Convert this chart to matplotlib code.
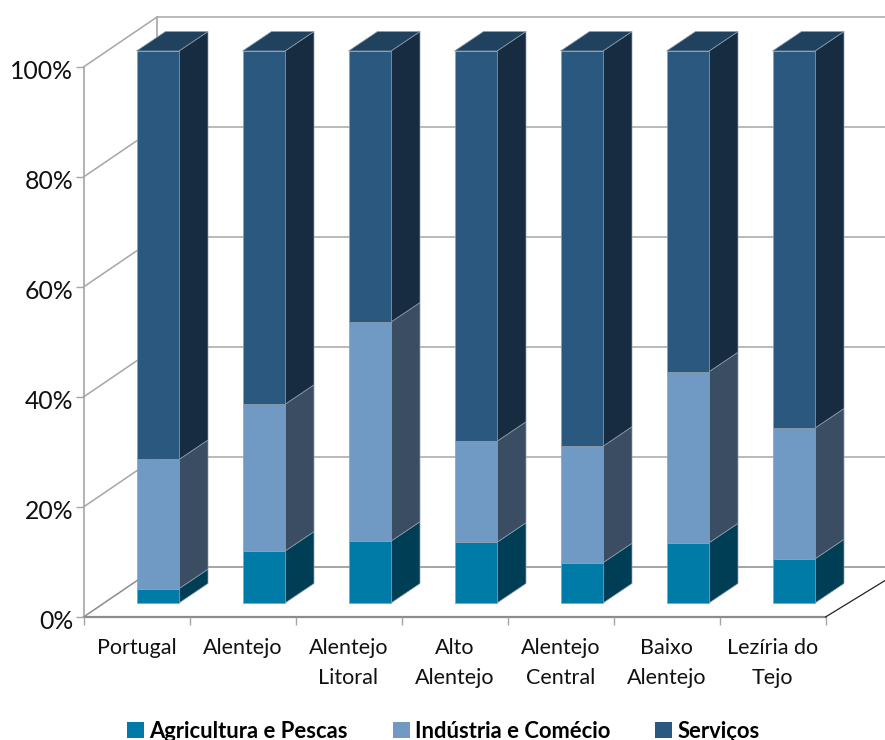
import matplotlib
matplotlib.use("Agg")
import matplotlib.pyplot as plt
from matplotlib.patches import Patch, Polygon
from matplotlib.transforms import ScaledTranslation

plt.rcParams['font.family'] = ['Lato', 'DejaVu Sans']

categories = ["Portugal", "Alentejo", "Alentejo\nLitoral", "Alto\nAlentejo",
              "Alentejo\nCentral", "Baixo\nAlentejo", "Lezíria do\nTejo"]
agricultura = [2.6, 9.4, 11.2, 11.0, 7.3, 10.9, 8.0]
industria = [23.4, 26.6, 39.7, 18.3, 21.1, 31.0, 23.7]
servicos = [74.0, 64.0, 49.1, 70.7, 71.6, 58.1, 68.3]
series_names = ["Agricultura e Pescas", "Indústria e Comécio", "Serviços"]
y_ticks = [0, 20, 40, 60, 80, 100]

W, H = 885, 740
L, R, B, T = 83.5, 825.5, 617.0, 67.0
PX = (R - L) / 7          # pixels per category
PY = (B - T) / 100        # pixels per percent
WALL_DX, WALL_DY = 73.5 / PX, 50 / PY
BAR_DX, BAR_DY = 21.25 / PX, 14 / PY
BAR_W = 42.5 / PX
SIDE_DX, SIDE_DY = 29 / PX, 19.5 / PY
BAR_SCALE = 552 / 550

front_c = ["#007AA6", "#7099C4", "#2A587E"]
side_c = ["#003E55", "#3A4D63", "#172C40"]
top_c = "#20425F"
GRID = "#A6A6A6"

fig = plt.figure(figsize=(W / 100, H / 100), dpi=100)
ax = fig.add_axes([L / W, 1 - B / H, (R - L) / W, (B - T) / H])
ax.set_xlim(0, 7)
ax.set_ylim(0, 100)
ax.patch.set_visible(False)
for s in ax.spines.values():
    s.set_visible(False)

# ticks and labels
ax.set_yticks(y_ticks)
ax.set_yticklabels([f"{v}%" for v in y_ticks], fontsize=17.8, color="#111111")
ax.tick_params(axis="y", length=5.5, width=1, color=GRID, pad=2)
shift = ScaledTranslation(0, -2.5 / 100, fig.dpi_scale_trans)
for lab in ax.get_yticklabels():
    lab.set_transform(lab.get_transform() + shift)
ax.set_xticks(range(8))
ax.set_xticklabels([])
ax.tick_params(axis="x", which="major", length=6, width=1, color=GRID)
ax.set_xticks([i + 0.5 for i in range(7)], minor=True)
ax.set_xticklabels(categories, minor=True, fontsize=15.5, color="#111111", linespacing=1.65)
ax.tick_params(axis="x", which="minor", length=0, pad=15)

# walls and grid
x_end = 7 + (885 - R) / PX
for v in y_ticks:
    ax.plot([0, WALL_DX, x_end], [v, v + WALL_DY, v + WALL_DY],
            color="#8C8C8C" if v == 0 else GRID, lw=1.1, clip_on=False, zorder=1,
            solid_joinstyle="miter")
ax.plot([0, 0], [0, 100], color=GRID, lw=1.2, clip_on=False, zorder=1)
ax.plot([WALL_DX, WALL_DX], [0 + WALL_DY, 100 + WALL_DY], color=GRID, lw=1.2, clip_on=False, zorder=1)
ax.plot([0, 7], [0, 0], color="#8C8C8C", lw=1.6, clip_on=False, zorder=1.5)
ax.plot([7, x_end], [0, (885 - R) / 73.5 * WALL_DY * 0.9], color="#222222", lw=0.9, clip_on=False, zorder=1.5)


def poly(points, color, z):
    ax.add_patch(Polygon(points, closed=True, facecolor=color, edgecolor="#8FA0AE",
                         lw=0.5, clip_on=False, zorder=z))


for i in range(len(categories)):
    x0 = i + 0.5 + BAR_DX - BAR_W / 2
    x1 = x0 + BAR_W
    base = 0.0
    for j, vals in enumerate((agricultura, industria, servicos)):
        y0 = BAR_DY + base * BAR_SCALE
        y1 = BAR_DY + (base + vals[i]) * BAR_SCALE
        z = 3 + i * 0.1 + j * 0.01
        poly([(x1, y0), (x1 + SIDE_DX, y0 + SIDE_DY), (x1 + SIDE_DX, y1 + SIDE_DY), (x1, y1)], side_c[j], z)
        poly([(x0, y0), (x1, y0), (x1, y1), (x0, y1)], front_c[j], z)
        base += vals[i]
    y1 = BAR_DY + base * BAR_SCALE
    poly([(x0, y1), (x1, y1), (x1 + SIDE_DX, y1 + SIDE_DY), (x0 + SIDE_DX, y1 + SIDE_DY)], top_c, z)

handles = [Patch(facecolor=c, edgecolor="none") for c in front_c]
fig.legend(handles, series_names, loc="center left", bbox_to_anchor=(127 / W, 1 - 731 / H),
           ncol=3, frameon=False, handlelength=0.78, handleheight=0.78,
           handletextpad=0.22, columnspacing=2.06, borderpad=0, borderaxespad=0,
           prop={"weight": "bold", "size": 15.8})

fig.savefig("out.png", dpi=100)
